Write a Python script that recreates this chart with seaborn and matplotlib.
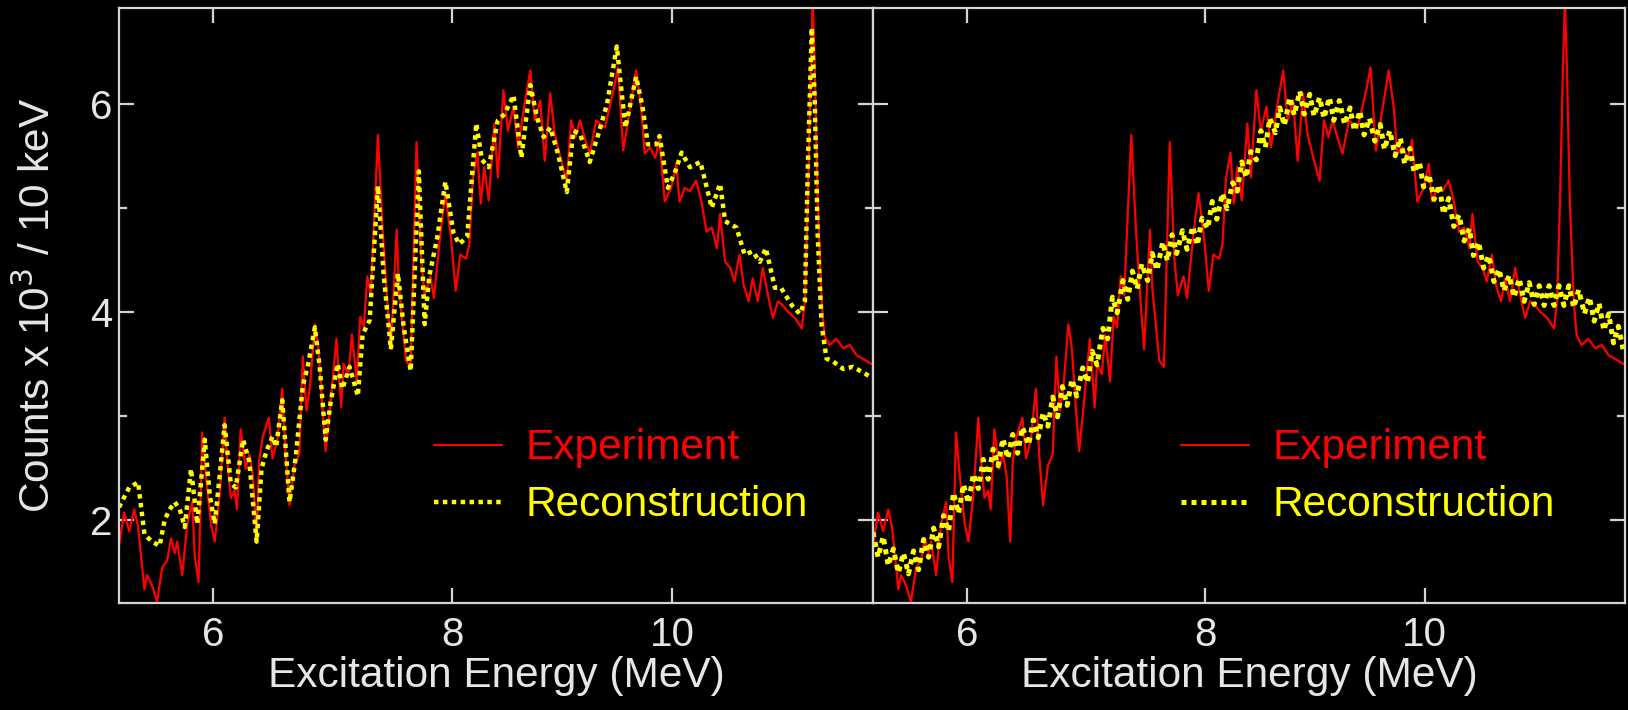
import numpy as np
import pandas as pd
import matplotlib
matplotlib.use("Agg")
import matplotlib.pyplot as plt
from matplotlib.ticker import MultipleLocator, NullLocator, FixedLocator
import seaborn as sns

# Experiment spectrum (same data in both panels), energy in MeV, counts x 10^3 / 10 keV
exp_energy = [5.25, 5.29, 5.33, 5.37, 5.40, 5.45, 5.47, 5.51, 5.55, 5.59,
              5.63, 5.66, 5.69, 5.71, 5.75, 5.79, 5.83, 5.85, 5.88, 5.91,
              5.94, 5.98, 6.01, 6.05, 6.09, 6.11, 6.14, 6.17, 6.19, 6.22,
              6.26, 6.29, 6.32, 6.35, 6.37, 6.40, 6.45, 6.48, 6.52, 6.56,
              6.59, 6.62, 6.66, 6.70, 6.73, 6.76, 6.79, 6.83, 6.86, 6.89,
              6.92, 6.96, 7.01, 7.05, 7.07, 7.11, 7.14, 7.18, 7.21, 7.24,
              7.27, 7.30, 7.36, 7.40, 7.44, 7.47, 7.52, 7.54, 7.60, 7.64,
              7.69, 7.73, 7.76, 7.81, 7.84, 7.90, 7.94, 7.99, 8.03, 8.07,
              8.12, 8.15, 8.18, 8.22, 8.25, 8.28, 8.32, 8.37,
              8.40, 8.45, 8.49, 8.54, 8.58, 8.63, 8.69, 8.73, 8.78, 8.82,
              8.87, 8.91, 8.97, 9.02, 9.06, 9.10, 9.14, 9.19, 9.23, 9.29,
              9.37, 9.45, 9.49, 9.54, 9.60, 9.66, 9.71, 9.74, 9.79, 9.84,
              9.88, 9.93, 9.99, 10.04, 10.07, 10.12, 10.17, 10.23, 10.28, 10.33,
              10.38, 10.43, 10.46, 10.51, 10.56, 10.60, 10.65, 10.69, 10.74, 10.78,
              10.83, 10.88, 10.93, 10.98, 11.03, 11.08, 11.13, 11.20, 11.27, 11.30,
              11.33, 11.36, 11.38, 11.40, 11.43, 11.47, 11.50, 11.55, 11.62, 11.69,
              11.76, 11.83, 11.89, 11.98]
exp_counts = [1.75, 2.07, 1.89, 2.10, 1.93, 1.33, 1.47, 1.37, 1.21, 1.54,
              1.61, 1.82, 1.68, 1.79, 1.47, 1.96, 2.17, 1.65, 1.40, 2.84,
              2.42, 1.96, 1.79, 2.24, 2.98, 2.59, 2.21, 2.28, 2.10, 2.87,
              2.49, 2.63, 2.42, 1.79, 2.56, 2.80, 2.98, 2.59, 2.77, 3.26,
              2.59, 2.14, 2.52, 2.63, 3.57, 3.05, 3.29, 3.88, 3.64, 3.12,
              2.66, 3.12, 3.74, 3.08, 3.50, 3.40, 3.78, 3.33, 3.95, 3.85,
              4.34, 4.16, 5.70, 4.79, 4.09, 3.64, 4.79, 4.23, 3.53, 3.47,
              5.63, 4.51, 4.16, 4.34, 4.13, 4.79, 5.14, 4.69, 4.20, 4.55,
              4.51, 4.65, 5.28, 5.53, 5.04, 5.39, 5.07, 5.81,
              5.29, 6.13, 5.74, 5.97, 5.58, 5.94, 6.32, 5.84, 6.03, 5.45,
              6.10, 5.71, 5.45, 5.26, 5.84, 5.68, 5.84, 5.65, 5.52, 5.84,
              5.77, 6.13, 6.35, 5.55, 5.94, 6.32, 5.94, 5.52, 5.58, 5.48,
              5.65, 5.06, 5.19, 5.42, 5.06, 5.19, 5.16, 5.26, 5.06, 4.77,
              4.81, 4.61, 4.94, 4.48, 4.42, 4.29, 4.55, 4.26, 4.10, 4.32,
              4.10, 4.42, 4.16, 3.94, 4.10, 4.06, 4.00, 3.94, 3.84, 4.10,
              5.06, 6.35, 7.00, 6.35, 5.06, 4.10, 3.77, 3.68, 3.74, 3.65,
              3.68, 3.58, 3.55, 3.50]

# Reconstruction, left panel
rec_left_energy = [5.25, 5.33, 5.40, 5.45, 5.51, 5.57, 5.61, 5.65, 5.69, 5.73,
                   5.77, 5.82, 5.87, 5.93, 5.97, 6.01, 6.05, 6.09, 6.14, 6.18,
                   6.24, 6.29, 6.35, 6.39, 6.43, 6.48, 6.51, 6.56, 6.62, 6.67,
                   6.73, 6.77, 6.83, 6.87, 6.92, 6.96, 7.02, 7.06, 7.12, 7.19,
                   7.23, 7.29, 7.36, 7.41, 7.47, 7.53, 7.58, 7.64, 7.71, 7.76,
                   7.80, 7.87, 7.94, 8.01, 8.06, 8.13, 8.21, 8.26, 8.32,
                   8.40, 8.46, 8.54, 8.61, 8.69, 8.75, 8.81, 8.87, 8.94, 9.02,
                   9.08, 9.14, 9.23, 9.31, 9.39, 9.48, 9.56, 9.66, 9.72, 9.77,
                   9.85, 9.88, 9.96, 10.03, 10.09, 10.17, 10.27, 10.38, 10.46, 10.51,
                   10.62, 10.70, 10.78, 10.85, 10.91, 11.00, 11.06, 11.17, 11.25, 11.30,
                   11.33, 11.37, 11.40, 11.43, 11.47, 11.52, 11.59, 11.69, 11.79, 11.89,
                   11.98]
rec_left_counts = [2.12, 2.31, 2.36, 1.86, 1.79, 1.75, 2.00, 2.10, 2.17, 2.10,
                   1.93, 2.49, 1.96, 2.77, 2.24, 1.96, 2.42, 2.91, 2.35, 2.31,
                   2.77, 2.56, 1.79, 2.49, 2.66, 2.80, 2.70, 3.15, 2.17, 2.59,
                   3.29, 3.47, 3.85, 3.47, 2.77, 3.12, 3.50, 3.26, 3.47, 3.19,
                   3.78, 3.92, 5.21, 4.34, 3.64, 4.37, 3.85, 3.43, 5.35, 3.88,
                   4.34, 4.72, 5.25, 4.76, 4.65, 4.72, 5.81, 5.46, 5.39,
                   5.84, 5.90, 6.08, 5.48, 6.18, 5.87, 5.68, 5.77, 5.52, 5.15,
                   5.74, 5.71, 5.44, 5.71, 6.00, 6.55, 5.77, 6.26, 5.97, 5.61,
                   5.61, 5.69, 5.19, 5.35, 5.53, 5.39, 5.44, 5.00, 5.23, 4.87,
                   4.81, 4.55, 4.58, 4.48, 4.61, 4.23, 4.23, 4.06, 3.98, 4.10,
                   5.39, 6.73, 6.03, 4.74, 3.87, 3.55, 3.52, 3.45, 3.47, 3.42,
                   3.37]

# Reconstruction, right panel
rec_right_energy = [5.25, 5.29, 5.33, 5.37, 5.41, 5.45, 5.49, 5.53, 5.57, 5.61,
                    5.65, 5.69, 5.73, 5.77, 5.81, 5.85, 5.89, 5.93, 5.97, 6.01,
                    6.05, 6.09, 6.13, 6.17, 6.21, 6.25, 6.29, 6.33, 6.37, 6.41,
                    6.45, 6.50, 6.54, 6.58, 6.62, 6.66, 6.70, 6.74, 6.78, 6.82,
                    6.86, 6.90, 6.95, 6.99, 7.03, 7.07, 7.12, 7.16, 7.20, 7.24,
                    7.29, 7.33, 7.37, 7.41, 7.45, 7.50, 7.54, 7.58, 7.63, 7.67,
                    7.71, 7.75, 7.80, 7.84, 7.89, 7.93, 7.97, 8.02, 8.06, 8.10,
                    8.15, 8.19, 8.24, 8.28, 8.32, 8.36, 8.40, 8.45, 8.49, 8.53,
                    8.57, 8.62, 8.66, 8.70, 8.75, 8.79, 8.84, 8.88, 8.93, 8.97,
                    9.02, 9.06, 9.11, 9.15, 9.20, 9.25, 9.30, 9.34, 9.39, 9.43,
                    9.48, 9.53, 9.58, 9.62, 9.67, 9.72, 9.77, 9.81, 9.86, 9.90,
                    9.95, 9.99, 10.04, 10.09, 10.14, 10.18, 10.23, 10.28, 10.33, 10.38,
                    10.43, 10.47, 10.52, 10.57, 10.62, 10.67, 10.72, 10.77, 10.82, 10.87,
                    10.92, 10.97, 11.02, 11.07, 11.12, 11.17, 11.22, 11.27, 11.32, 11.37,
                    11.42, 11.47, 11.52, 11.58, 11.63, 11.68, 11.73, 11.78, 11.83, 11.88,
                    11.93, 11.98]
rec_right_counts = [1.88, 1.64, 1.84, 1.56, 1.72, 1.49, 1.68, 1.48, 1.70, 1.52,
                    1.81, 1.64, 1.92, 1.74, 2.04, 1.89, 2.26, 2.06, 2.34, 2.16,
                    2.44, 2.30, 2.58, 2.39, 2.68, 2.52, 2.78, 2.59, 2.82, 2.64,
                    2.89, 2.72, 2.96, 2.79, 3.03, 2.90, 3.18, 2.99, 3.28, 3.10,
                    3.35, 3.19, 3.46, 3.32, 3.62, 3.49, 3.84, 3.74, 4.14, 3.99,
                    4.30, 4.12, 4.39, 4.22, 4.46, 4.30, 4.56, 4.40, 4.67, 4.49,
                    4.74, 4.56, 4.78, 4.60, 4.82, 4.64, 4.90, 4.80, 5.06, 4.89,
                    5.14, 4.99, 5.24, 5.16, 5.44, 5.29, 5.54, 5.46, 5.74, 5.58,
                    5.86, 5.72, 5.96, 5.79, 6.06, 5.89, 6.12, 5.90, 6.09, 5.88,
                    6.06, 5.86, 6.06, 5.84, 6.03, 5.80, 5.96, 5.74, 5.93, 5.70,
                    5.86, 5.64, 5.80, 5.56, 5.74, 5.50, 5.67, 5.42, 5.57, 5.34,
                    5.44, 5.20, 5.32, 5.08, 5.22, 4.94, 5.09, 4.82, 4.93, 4.68,
                    4.80, 4.54, 4.67, 4.42, 4.54, 4.29, 4.41, 4.20, 4.35, 4.14,
                    4.32, 4.10, 4.28, 4.07, 4.25, 4.06, 4.25, 4.06, 4.25, 4.06,
                    4.25, 4.04, 4.21, 3.98, 4.14, 3.91, 4.08, 3.82, 3.98, 3.70,
                    3.86, 3.64]

x_ticks = [6, 8, 10]
x_range = (5.25, 12.0)
y_range = (1.2, 6.92)

exp_df = pd.DataFrame({"energy": exp_energy, "counts": exp_counts})
rec_left_df = pd.DataFrame({"energy": rec_left_energy, "counts": rec_left_counts})
rec_right_df = pd.DataFrame({"energy": rec_right_energy, "counts": rec_right_counts})


# slightly non-linear energy calibration of the detector axis
def calib_fwd(e):
    e = np.asarray(e, dtype=float)
    return 152.75 * e - 2.375 * e ** 2


def calib_inv(p):
    p = np.asarray(p, dtype=float)
    disc = np.clip(152.75 ** 2 - 4 * 2.375 * p, 0, None)
    return (152.75 - np.sqrt(disc)) / (2 * 2.375)


sns.set_style("dark")
plt.rcParams["font.family"] = ["Liberation Sans", "DejaVu Sans"]

fg = "#e6e6e6"
spine_col = "#d4d4d4"
red = "#ff0000"
yellow = "#ffff00"

fig = plt.figure(figsize=(16.28, 7.10), dpi=100, facecolor="black")
ax1 = fig.add_axes([119 / 1628, 107 / 710, 754 / 1628, 595 / 710])
ax2 = fig.add_axes([873 / 1628, 107 / 710, 752 / 1628, 595 / 710])

for ax, rec, rec_lw in [(ax1, rec_left_df, 3.2), (ax2, rec_right_df, 3.6)]:
    ax.set_facecolor("black")
    sns.lineplot(data=exp_df, x="energy", y="counts", ax=ax, color=red,
                 lw=1.6, label="Experiment")
    sns.lineplot(data=rec, x="energy", y="counts", ax=ax, color=yellow,
                 lw=rec_lw, linestyle=(0, (1, 1)), label="Reconstruction")
    ax.set_xscale("function", functions=(calib_fwd, calib_inv))
    ax.set_xlim(*x_range)
    ax.set_ylim(*y_range)
    ax.xaxis.set_major_locator(FixedLocator(x_ticks))
    ax.xaxis.set_minor_locator(NullLocator())
    ax.yaxis.set_major_locator(MultipleLocator(2))
    ax.yaxis.set_minor_locator(MultipleLocator(1))
    ax.grid(False)
    for s in ax.spines.values():
        s.set_visible(True)
        s.set_color(spine_col)
        s.set_linewidth(1.6)
    ax.tick_params(which="both", direction="in", top=True, right=True,
                   bottom=True, left=True, color=spine_col, width=1.6,
                   labelcolor=fg, labelsize=29)
    ax.tick_params(which="major", length=11)
    ax.tick_params(which="minor", length=6)
    ax.tick_params(axis="x", pad=9)
    ax.tick_params(axis="y", pad=5)
    ax.set_xlabel("Excitation Energy (MeV)", fontsize=30.5, color=fg, labelpad=2)
    ax.set_ylabel("")
    leg = ax.legend(loc="center left", bbox_to_anchor=(0.418, 0.212),
                    frameon=False, fontsize=30.5, handlelength=1.6,
                    handletextpad=0.55, labelspacing=0.4, borderpad=0,
                    borderaxespad=0, labelcolor="linecolor")

ax2.tick_params(labelleft=False)
ax2.get_legend().set_bbox_to_anchor((0.41, 0.212), transform=ax2.transAxes)
ax1.set_ylabel("Counts x 10$^{3}$ / 10 keV", fontsize=30.5, color=fg, labelpad=22)

fig.savefig("out.png", dpi=100, facecolor="black")
